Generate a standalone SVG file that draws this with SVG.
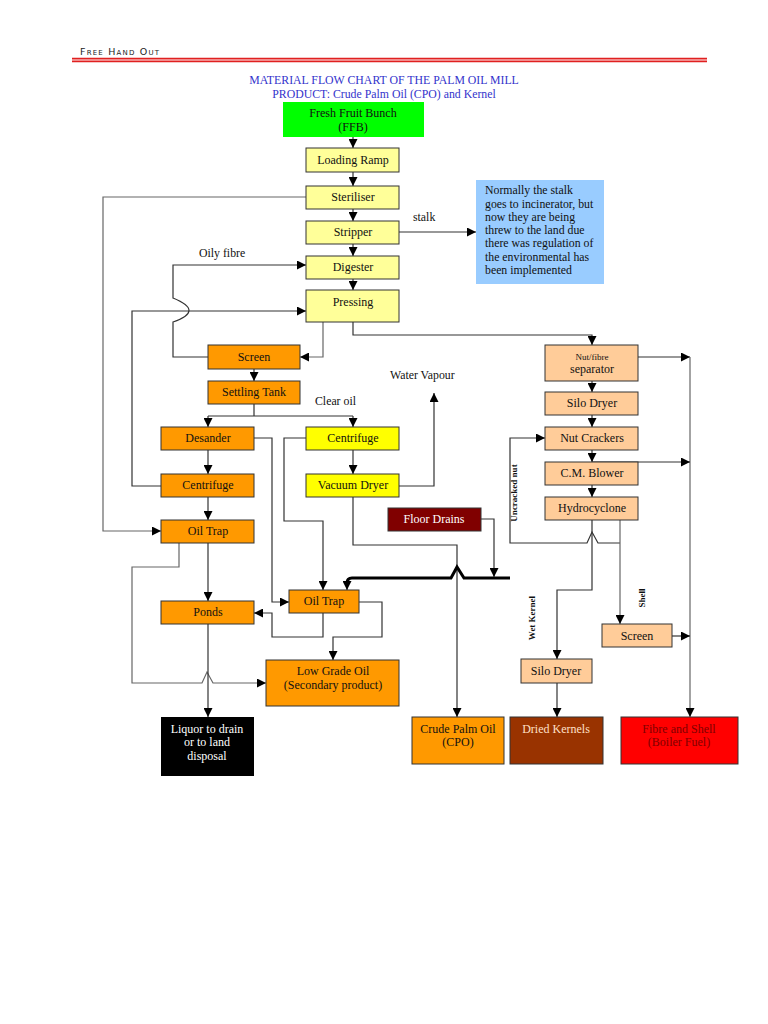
<svg xmlns="http://www.w3.org/2000/svg" width="768" height="1024" viewBox="0 0 768 1024">
<style>
.n{stroke:#333;stroke-width:1}
.t{font-family:"Liberation Serif","Times New Roman",serif;font-size:12px;fill:#111;text-anchor:middle}
.l{font-family:"Liberation Serif","Times New Roman",serif;font-size:11.8px;fill:#111}
.c{fill:none;stroke:#333;stroke-width:1.2}
.g{fill:none;stroke:#666;stroke-width:1.2}
.pale{fill:#ffff99}.yel{fill:#ffff00}.org{fill:#ff9900}.pch{fill:#ffcc99}
.rot{font-family:"Liberation Serif","Times New Roman",serif;font-size:9px;font-weight:bold;fill:#111;text-anchor:middle}
.title{font-family:"Liberation Serif","Times New Roman",serif;font-size:11.8px;fill:#3333cc;text-anchor:middle}
</style>
<defs>
<marker id="a" viewBox="0 0 10 10" refX="10" refY="5" markerWidth="9" markerHeight="9" orient="auto" markerUnits="userSpaceOnUse"><path d="M0,0 L10,5 L0,10 z" fill="#000"/></marker>
</defs>
<rect width="768" height="1024" fill="#fff"/>
<g id="header">
<text x="80" y="55" font-family="'DejaVu Sans',Verdana,sans-serif" font-size="9.5" font-variant="small-caps" letter-spacing="1.2" fill="#222">Free Hand Out</text>
<rect x="72" y="58" width="635" height="4" fill="#f7b0b0"/>
<line x1="72" y1="58.5" x2="707" y2="58.5" stroke="#e02020" stroke-width="1.3"/>
<line x1="72" y1="61.5" x2="707" y2="61.5" stroke="#e02020" stroke-width="1.3"/>
<text class="title" x="384" y="84">MATERIAL FLOW CHART OF THE PALM OIL MILL</text>
<text class="title" x="384" y="98">PRODUCT: Crude Palm Oil (CPO) and Kernel</text>
</g>
<g id="connectors">
<path class="c" d="M353,137 V148" marker-end="url(#a)"/>
<path class="c" d="M353,172 V186" marker-end="url(#a)"/>
<path class="c" d="M353,209 V221" marker-end="url(#a)"/>
<path class="c" d="M353,244 V256" marker-end="url(#a)"/>
<path class="c" d="M353,279 V290" marker-end="url(#a)"/>
<path class="g" d="M306,197 H103 V531 H161" marker-end="url(#a)"/>
<path class="c" d="M399,232 H476" marker-end="url(#a)"/>
<path class="c" d="M208,357 H173 V322 Q205,311 173,298 V265 H306" marker-end="url(#a)"/>
<path class="c" d="M161,486 H132 V311 H306" marker-end="url(#a)"/>
<path class="g" d="M323,322 V357 H300" marker-end="url(#a)"/>
<path class="c" d="M353,322 V335 H592 V345" marker-end="url(#a)"/>
<path class="c" d="M254,369 V381" marker-end="url(#a)"/>
<path class="c" d="M254,404 V416 M208,416 H353"/>
<path class="c" d="M208,416 V427" marker-end="url(#a)"/>
<path class="c" d="M353,416 V427" marker-end="url(#a)"/>
<path class="c" d="M208,450 V474" marker-end="url(#a)"/>
<path class="c" d="M208,497 V520" marker-end="url(#a)"/>
<path class="c" d="M254,438 H272 V602 H289" marker-end="url(#a)"/>
<path class="c" d="M306,438 H284 V521 H323 V590" marker-end="url(#a)"/>
<path class="c" d="M353,450 V474" marker-end="url(#a)"/>
<path class="c" d="M399,486 H434 V393" marker-end="url(#a)"/>
<path class="c" d="M353,497 V545 H457 V717" marker-end="url(#a)"/>
<path fill="none" stroke="#000" stroke-width="3" d="M510,578 H464 L457,567 L451,578 H352 Q347,578 347,583"/>
<path class="c" d="M347,582 V590" marker-end="url(#a)"/>
<path class="c" d="M481,519 H494 V577" marker-end="url(#a)"/>
<path class="c" d="M208,543 V601" marker-end="url(#a)"/>
<path class="g" d="M179,543 V567 H132 V683 H202 L207,672 L213,683 H266" marker-end="url(#a)"/>
<path class="c" d="M208,624 V717" marker-end="url(#a)"/>
<path class="c" d="M323,613 V637 H272 V613 H254" marker-end="url(#a)"/>
<path class="c" d="M359,602 H382 V637 H333 V660" marker-end="url(#a)"/>
<path class="c" d="M592,381 V392" marker-end="url(#a)"/>
<path class="c" d="M592,415 V427" marker-end="url(#a)"/>
<path class="c" d="M592,450 V462" marker-end="url(#a)"/>
<path class="c" d="M592,485 V497" marker-end="url(#a)"/>
<path class="c" d="M638,357 H690" marker-end="url(#a)"/>
<path class="g" d="M690,357 V717" marker-end="url(#a)"/>
<path class="c" d="M592,462 H690" marker-end="url(#a)"/>
<path class="c" d="M620,543 H598 L592,532 L587,543 H510 V438 H545" marker-end="url(#a)"/>
<path class="c" d="M592,520 V590 H557 V659" marker-end="url(#a)"/>
<path class="g" d="M620,520 V624" marker-end="url(#a)"/>
<path class="c" d="M672,636 H690" marker-end="url(#a)"/>
<path class="c" d="M557,683 V717" marker-end="url(#a)"/>
</g>
<g id="labels">
<text class="l" x="413" y="221">stalk</text>
<text class="l" x="199" y="257">Oily fibre</text>
<text class="l" x="390" y="379">Water Vapour</text>
<text class="l" x="315" y="405">Clear oil</text>
<text class="rot" transform="translate(517,493) rotate(-90)">Uncracked nut</text>
<text class="rot" transform="translate(535,618) rotate(-90)">Wet Kernel</text>
<text class="rot" transform="translate(645,598) rotate(-90)">Shell</text>
</g>
<g id="ffb"><rect x="283" y="102" width="141" height="35" fill="#00ff00"/><text class="t" x="353" y="117">Fresh Fruit Bunch</text><text class="t" x="353" y="131">(FFB)</text></g>
<g id="loading-ramp"><rect class="n pale" x="306" y="148" width="93" height="24"/><text class="t" x="353" y="164">Loading Ramp</text></g>
<g id="steriliser"><rect class="n pale" x="306" y="186" width="93" height="23"/><text class="t" x="353" y="201">Steriliser</text></g>
<g id="stripper"><rect class="n pale" x="306" y="221" width="93" height="23"/><text class="t" x="353" y="236">Stripper</text></g>
<g id="digester"><rect class="n pale" x="306" y="256" width="93" height="23"/><text class="t" x="353" y="271">Digester</text></g>
<g id="pressing"><rect class="n pale" x="306" y="290" width="93" height="32"/><text class="t" x="353" y="306">Pressing</text></g>
<g id="note"><rect x="476" y="180" width="128" height="104" fill="#99ccff"/>
<text class="l" x="485" y="194">Normally the stalk</text>
<text class="l" x="485" y="208">goes to incinerator, but</text>
<text class="l" x="485" y="221">now they are being</text>
<text class="l" x="485" y="234">threw to the land due</text>
<text class="l" x="485" y="247">there was regulation of</text>
<text class="l" x="485" y="261">the environmental has</text>
<text class="l" x="485" y="274">been implemented</text></g>
<g id="screen"><rect class="n org" x="208" y="345" width="92" height="24"/><text class="t" x="254" y="361">Screen</text></g>
<g id="settling-tank"><rect class="n org" x="208" y="381" width="92" height="23"/><text class="t" x="254" y="396">Settling Tank</text></g>
<g id="desander"><rect class="n org" x="161" y="427" width="93" height="23"/><text class="t" x="208" y="442">Desander</text></g>
<g id="centrifuge-left"><rect class="n org" x="161" y="474" width="93" height="23"/><text class="t" x="208" y="489">Centrifuge</text></g>
<g id="oil-trap-left"><rect class="n org" x="161" y="520" width="93" height="23"/><text class="t" x="208" y="535">Oil Trap</text></g>
<g id="ponds"><rect class="n org" x="161" y="601" width="93" height="23"/><text class="t" x="208" y="616">Ponds</text></g>
<g id="centrifuge-right"><rect class="n yel" x="306" y="427" width="93" height="23"/><text class="t" x="353" y="442">Centrifuge</text></g>
<g id="vacuum-dryer"><rect class="n yel" x="306" y="474" width="93" height="23"/><text class="t" x="353" y="489">Vacuum Dryer</text></g>
<g id="floor-drains"><rect class="n" x="388" y="508" width="93" height="23" fill="#800000"/><text class="t" x="434" y="523" style="fill:#fff">Floor Drains</text></g>
<g id="oil-trap-mid"><rect class="n org" x="289" y="590" width="70" height="23"/><text class="t" x="324" y="605">Oil Trap</text></g>
<g id="low-grade-oil"><rect class="n org" x="266" y="660" width="133" height="46"/><text class="t" x="333" y="675">Low Grade Oil</text><text class="t" x="333" y="689">(Secondary product)</text></g>
<g id="liquor"><rect x="161" y="717" width="93" height="59" fill="#000"/><text class="t" x="207" y="733" style="fill:#fff">Liquor to drain</text><text class="t" x="207" y="746" style="fill:#fff">or to land</text><text class="t" x="207" y="760" style="fill:#fff">disposal</text></g>
<g id="cpo"><rect class="n org" x="412" y="717" width="92" height="47"/><text class="t" x="458" y="733">Crude Palm Oil</text><text class="t" x="458" y="746">(CPO)</text></g>
<g id="dried-kernels"><rect class="n" x="510" y="717" width="93" height="47" fill="#993300"/><text class="t" x="556" y="733" style="fill:#ffe0c8">Dried Kernels</text></g>
<g id="fibre-shell"><rect class="n" x="621" y="717" width="117" height="47" fill="#ff0000"/><text class="t" x="679" y="733" style="fill:#800000">Fibre and Shell</text><text class="t" x="679" y="746" style="fill:#800000">(Boiler Fuel)</text></g>
<g id="nut-fibre-separator"><rect class="n pch" x="545" y="345" width="93" height="36"/><text class="t" x="592" y="360" style="font-size:9px">Nut/fibre</text><text class="t" x="592" y="373">separator</text></g>
<g id="silo-dryer-top"><rect class="n pch" x="545" y="392" width="93" height="23"/><text class="t" x="592" y="407">Silo Dryer</text></g>
<g id="nut-crackers"><rect class="n pch" x="545" y="427" width="93" height="23"/><text class="t" x="592" y="442">Nut Crackers</text></g>
<g id="cm-blower"><rect class="n pch" x="545" y="462" width="93" height="23"/><text class="t" x="592" y="477">C.M. Blower</text></g>
<g id="hydrocyclone"><rect class="n pch" x="545" y="497" width="93" height="23"/><text class="t" x="592" y="512">Hydrocyclone</text></g>
<g id="screen-right"><rect class="n pch" x="602" y="624" width="70" height="23"/><text class="t" x="637" y="640">Screen</text></g>
<g id="silo-dryer-bottom"><rect class="n pch" x="521" y="659" width="71" height="24"/><text class="t" x="556" y="675">Silo Dryer</text></g>
</svg>
